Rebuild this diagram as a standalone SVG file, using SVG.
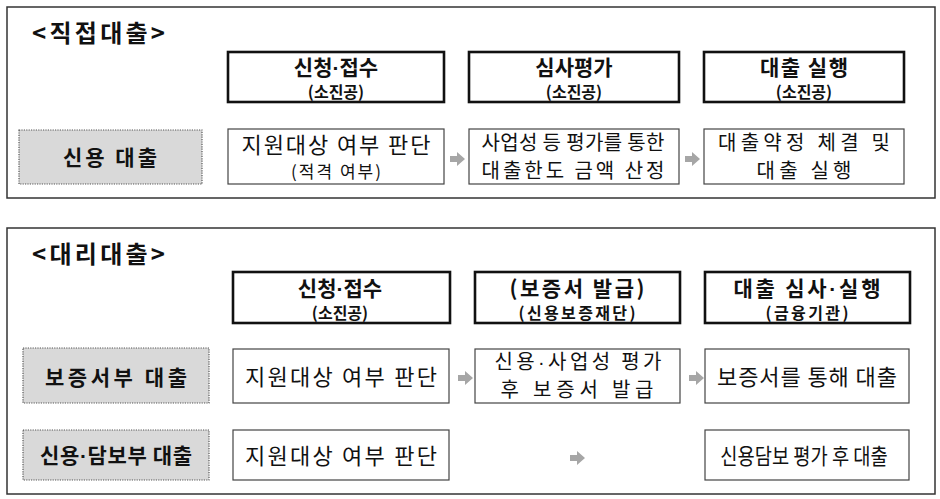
<svg xmlns="http://www.w3.org/2000/svg" width="940" height="499" viewBox="0 0 940 499">
<style>
text{font-family:"Noto Sans CJK KR","Noto Sans",sans-serif;fill:#111;text-anchor:middle}
.d{font-family:"Liberation Sans",sans-serif}
.frame{fill:#fff;stroke:#333;stroke-width:1.5}
.hdr{fill:#fff;stroke:#111;stroke-width:2.6}
.box{fill:#fff;stroke:#444;stroke-width:1.2}
.lbl{fill:#d9d9d9;stroke:#555;stroke-width:1.2;stroke-dasharray:1.2 1.2}
.t{font-size:24px;font-weight:700;text-anchor:start}
.h1{font-size:21px;font-weight:700}
.h2{font-size:16px;font-weight:700}
.lt{font-size:21px;font-weight:700}
.c{font-size:22px;font-weight:400}
.c2{font-size:20px;font-weight:400}
.cs{font-size:17px;font-weight:400}
.arr{fill:#a6a6a6}
</style>
<rect width="940" height="499" fill="#fff"/>
<g id="frame-direct">
<rect class="frame" x="7" y="7" width="928" height="191"/>
<text class="t" x="32" y="42" textLength="133" lengthAdjust="spacing">&lt;직접대출&gt;</text>
</g>
<g id="frame-proxy">
<rect class="frame" x="7" y="228" width="928" height="266"/>
<text class="t" x="32" y="263" textLength="133" lengthAdjust="spacing">&lt;대리대출&gt;</text>
</g>
<g id="d-h1"><rect class="hdr" x="228" y="52" width="216" height="50"/><text class="h1" x="336" y="74.5">신청<tspan class="d">·</tspan>접수</text><text class="h2" x="336" y="97.5">(소진공)</text></g>
<g id="d-h2"><rect class="hdr" x="469" y="52" width="210" height="50"/><text class="h1" x="574" y="74.5">심사평가</text><text class="h2" x="574" y="97.5">(소진공)</text></g>
<g id="d-h3"><rect class="hdr" x="704" y="52" width="200" height="50"/><text class="h1" x="804" y="74.5" textLength="88" lengthAdjust="spacing">대출 실행</text><text class="h2" x="804" y="97.5">(소진공)</text></g>
<g id="d-label"><rect class="lbl" x="19" y="130" width="183" height="54"/><text class="lt" x="110" y="165" textLength="94" lengthAdjust="spacing">신용 대출</text></g>
<g id="d-c1"><rect class="box" x="228" y="129" width="216" height="55"/><text class="c" x="336" y="153" textLength="189" lengthAdjust="spacing">지원대상 여부 판단</text><text class="cs" x="336" y="178" textLength="90" lengthAdjust="spacing">(적격 여부)</text></g>
<g id="d-c2"><rect class="box" x="469" y="129" width="210" height="55"/><text class="c2" x="573" y="150" textLength="183" lengthAdjust="spacing">사업성 등 평가를 통한</text><text class="c2" x="573" y="178" textLength="183" lengthAdjust="spacing">대출한도 금액 산정</text></g>
<g id="d-c3"><rect class="box" x="704" y="129" width="200" height="55"/><text class="c2" x="804" y="150" textLength="172" lengthAdjust="spacing">대출약정 체결 및</text><text class="c2" x="804" y="178" textLength="95" lengthAdjust="spacing">대출 실행</text></g>
<g id="p-h1"><rect class="hdr" x="233" y="272" width="217" height="51"/><text class="h1" x="340" y="295.5">신청<tspan class="d">·</tspan>접수</text><text class="h2" x="340" y="318.5">(소진공)</text></g>
<g id="p-h2"><rect class="hdr" x="475" y="272" width="205" height="51"/><text class="h1" x="577" y="295.5" textLength="135" lengthAdjust="spacing">(보증서 발급)</text><text class="h2" x="577" y="318.5" textLength="117" lengthAdjust="spacing">(신용보증재단)</text></g>
<g id="p-h3"><rect class="hdr" x="705" y="272" width="205" height="51"/><text class="h1" x="807" y="295.5" textLength="147" lengthAdjust="spacing">대출 심사<tspan class="d">·</tspan>실행</text><text class="h2" x="807" y="318.5" textLength="83" lengthAdjust="spacing">(금융기관)</text></g>
<g id="p-label1"><rect class="lbl" x="23" y="348" width="186" height="55"/><text class="lt" x="116" y="385" textLength="142" lengthAdjust="spacing">보증서부 대출</text></g>
<g id="p-c1"><rect class="box" x="233" y="349" width="216" height="54"/><text class="c" x="341" y="385" textLength="192" lengthAdjust="spacing">지원대상 여부 판단</text></g>
<g id="p-c2"><rect class="box" x="475" y="349" width="205" height="54"/><text class="c2" x="578" y="369" textLength="167" lengthAdjust="spacing">신용<tspan class="d">·</tspan>사업성 평가</text><text class="c2" x="577" y="397" textLength="153" lengthAdjust="spacing">후 보증서 발급</text></g>
<g id="p-c3"><rect class="box" x="705" y="349" width="204" height="54"/><text class="c" x="807" y="385" textLength="180" lengthAdjust="spacing">보증서를 통해 대출</text></g>
<g id="p-label2"><rect class="lbl" x="23" y="430" width="186" height="50"/><text class="lt" x="116" y="463" textLength="152" lengthAdjust="spacing">신용<tspan class="d">·</tspan>담보부 대출</text></g>
<g id="p-c4"><rect class="box" x="233" y="430" width="216" height="50"/><text class="c" x="341" y="464" textLength="192" lengthAdjust="spacing">지원대상 여부 판단</text></g>
<g id="p-c5"><rect class="box" x="705" y="430" width="204" height="50"/><text class="c" transform="translate(804,464) scale(0.85,1)" x="0" y="0">신용담보 평가 후 대출</text></g>
<g id="connectors">
<polygon class="arr" points="450,156 457,156 457,152 465,159 457,166 457,162 450,162"/>
<polygon class="arr" points="685,156 692,156 692,152 700,159 692,166 692,162 685,162"/>
<polygon class="arr" points="458,375 465,375 465,371 473,378 465,385 465,381 458,381"/>
<polygon class="arr" points="689,375 696,375 696,371 704,378 696,385 696,381 689,381"/>
<polygon class="arr" points="570,455 577,455 577,451 585,458 577,465 577,461 570,461"/>
</g>
</svg>
